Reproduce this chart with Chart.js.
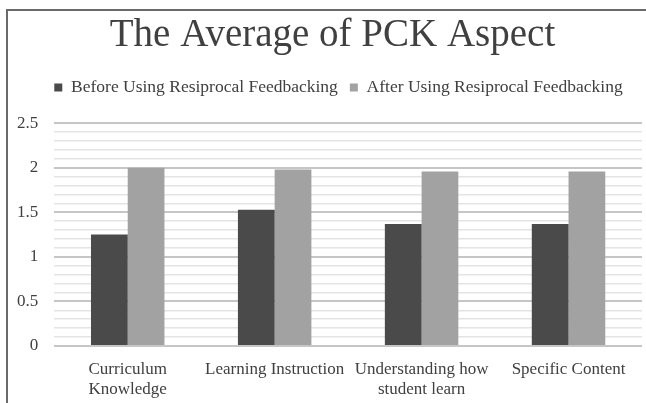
<!DOCTYPE html>
<html>
<head>
<meta charset="utf-8">
<script src="https://cdn.jsdelivr.net/npm/chart.js@4"></script>
<style>
  html, body { margin: 0; padding: 0; background: #fff; overflow: hidden; }
  canvas { display: block; }
</style>
</head>
<body>
<canvas id="chart" width="646" height="403"></canvas>
<script>
// --- Data ---
const categories = [["Curriculum", "Knowledge"], "Learning Instruction", ["Understanding how", "student learn"], "Specific Content"];
const seriesNames = ["Before Using Resiprocal Feedbacking", "After Using Resiprocal Feedbacking"];
const beforeValues = [1.25, 1.53, 1.37, 1.37];
const afterValues = [2.0, 1.98, 1.96, 1.96];
const tickLabels = ["0", "0.5", "1", "1.5", "2", "2.5"];

const serif = "'Liberation Serif', 'Times New Roman', serif";
const textColor = "#404040";

// true when a tick value sits on a major step (0.5)
const isMajor = v => Math.abs(v * 2 - Math.round(v * 2)) < 1e-6;

// frame lines (top + left) of the scanned figure, plus small header nudges
const framePlugin = {
  id: "frame",
  beforeInit(chart) {
    // extra room under the legend
    const fit = chart.legend.fit;
    chart.legend.fit = function () { fit.call(this); this.height += 17; };
  },
  afterLayout(chart) {
    // the header sits a bit right of the canvas centre in the original
    chart.titleBlock.left += 11; chart.titleBlock.right += 11;
    chart.legend.left += 17; chart.legend.right += 17;
  },
  beforeDraw(chart) {
    const ctx = chart.ctx;
    ctx.save();
    ctx.strokeStyle = "#6a6a6a";
    ctx.lineWidth = 2;
    ctx.beginPath();
    ctx.moveTo(7, chart.height);
    ctx.lineTo(7, 10);
    ctx.lineTo(chart.width, 10);
    ctx.stroke();
    ctx.restore();
  }
};

new Chart(document.getElementById("chart"), {
  type: "bar",
  data: {
    labels: categories,
    datasets: [
      { label: seriesNames[0], data: beforeValues, backgroundColor: "#4a4a4a" },
      { label: seriesNames[1], data: afterValues, backgroundColor: "#a2a2a2" }
    ]
  },
  plugins: [framePlugin],
  options: {
    responsive: false,
    animation: false,
    layout: { padding: { left: 1, right: 4, top: 12, bottom: -2 } },
    datasets: { bar: { categoryPercentage: 0.5, barPercentage: 1 } },
    plugins: {
      title: {
        display: true,
        text: "The Average of PCK Aspect",
        color: textColor,
        font: { family: serif, size: 39, weight: "normal" },
        padding: { top: 0, bottom: 8 }
      },
      legend: {
        position: "top",
        labels: {
          color: textColor,
          font: { family: serif, size: 17.5 },
          boxWidth: 8, boxHeight: 8, padding: 12
        }
      },
      tooltip: { enabled: false }
    },
    scales: {
      x: {
        grid: { display: false },
        border: { display: false },
        ticks: { color: textColor, padding: 6, font: { family: serif, size: 17, lineHeight: 1.15 }, maxRotation: 0, autoSkip: false }
      },
      y: {
        min: 0, max: 2.5,
        border: { display: false },
        grid: {
          drawTicks: false,
          color: ctx => isMajor(ctx.tick.value) ? "#c6c6c6" : "#e4e4e4",
          lineWidth: ctx => isMajor(ctx.tick.value) ? 2 : 1.5
        },
        ticks: {
          stepSize: 0.1, autoSkip: false, padding: 16,
          color: textColor, font: { family: serif, size: 17 },
          callback: v => isMajor(v) ? tickLabels[Math.round(v * 2)] : ""
        }
      }
    }
  }
});
</script>
</body>
</html>
